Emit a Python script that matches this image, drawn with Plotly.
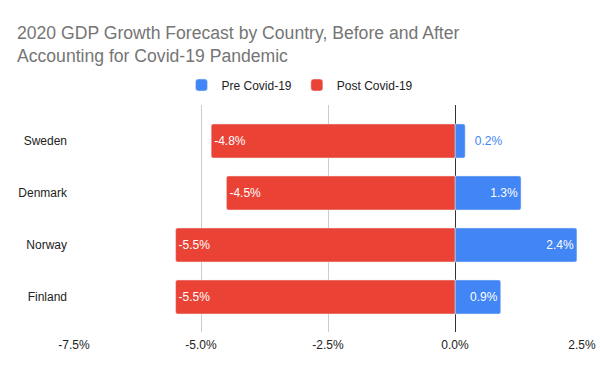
import plotly.graph_objects as go

countries = ["Sweden", "Denmark", "Norway", "Finland"]
pre_covid = [0.2, 1.3, 2.4, 0.9]
post_covid = [-4.8, -4.5, -5.5, -5.5]
tick_vals = [-7.5, -5.0, -2.5, 0.0, 2.5]
tick_text = ["-7.5%", "-5.0%", "-2.5%", "0.0%", "2.5%"]

BLUE = "#4285F4"
RED = "#EA4335"
FONT = "Arial, Liberation Sans, sans-serif"

# label styling: small bars get outside labels in series colour
small = [abs(v) < 0.5 for v in pre_covid]
pre_pos = ["outside" if s else "inside" for s in small]
pre_col = [BLUE if s else "white" for s in small]
pre_tpl = ["\u00a0\u00a0%{x:.1f}%" if s else "%{x:.1f}%" for s in small]

fig = go.Figure()
fig.add_trace(go.Bar(
    name="Pre Covid-19", y=countries, x=pre_covid, orientation="h",
    marker=dict(color=BLUE, cornerradius=2),
    width=0.654,
    texttemplate=pre_tpl, textposition=pre_pos,
    insidetextanchor="end",
    textfont=dict(color=pre_col, size=12, family=FONT),
    cliponaxis=False,
))
fig.add_trace(go.Bar(
    name="Post Covid-19", y=countries, x=post_covid, orientation="h",
    marker=dict(color=RED, cornerradius=2),
    width=0.654,
    texttemplate="%{x:.1f}%", textposition="inside",
    insidetextanchor="end",
    textfont=dict(color="white", size=12, family=FONT),
))

fig.update_layout(
    width=600, height=371,
    barmode="overlay",
    paper_bgcolor="white", plot_bgcolor="white",
    margin=dict(l=74, r=18, t=105, b=39, autoexpand=False),
    font=dict(family=FONT, size=12, color="#222222"),
    title=dict(
        text="2020 GDP Growth Forecast by Country, Before and After<br>Accounting for Covid-19 Pandemic",
        x=17 / 600, xanchor="left", xref="container",
        y=1 - 39 / 371, yanchor="top", yref="container",
        font=dict(family=FONT, size=17.6, color="#757575"),
    ),
    legend=dict(
        orientation="h", xref="paper", yref="paper",
        x=(300 - 74) / 508, xanchor="center", y=(332 - 85) / 227, yanchor="middle",
        font=dict(size=12, color="#222222"),
        traceorder="normal",
    ),
    showlegend=True,
)
fig.update_xaxes(
    range=[-7.5, 2.5], tickvals=tick_vals, ticktext=tick_text,
    showgrid=True, gridcolor="#cccccc", gridwidth=1,
    zeroline=True, zerolinecolor="#333333", zerolinewidth=1,
    showline=False, ticks="", ticklabelstandoff=4, automargin=False,
    tickfont=dict(size=12, color="#222222"),
)
fig.update_yaxes(
    type="category", categoryorder="array", categoryarray=countries,
    range=[3.673, -0.692],
    showgrid=False, zeroline=False, showline=False, ticks="",
    ticklabelstandoff=6, automargin=False,
    tickfont=dict(size=12, color="#222222"),
)

fig.write_html(
    "out.html",
    config={"displayModeBar": False},
    post_script="document.body.style.margin='0';document.body.style.overflow='hidden';",
)
